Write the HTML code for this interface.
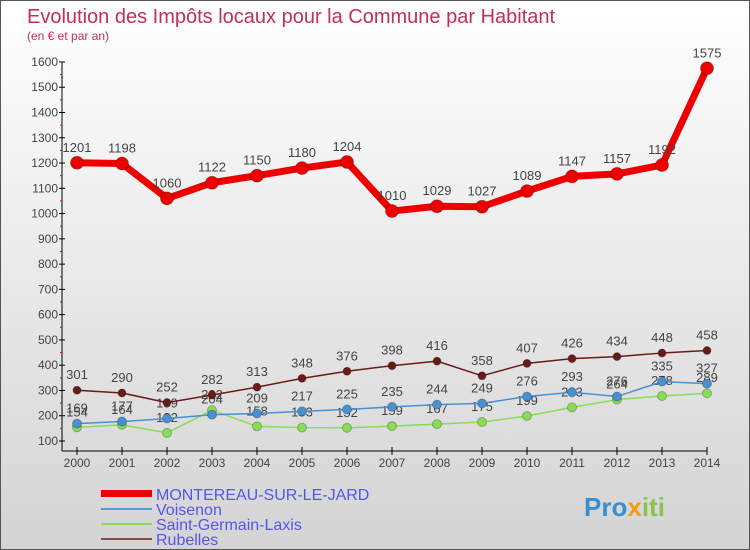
<!DOCTYPE html>
<html><head><meta charset="utf-8"><style>
body{margin:0}
#c{width:748px;height:548px;border:1px solid #555;position:relative;background:linear-gradient(#ffffff,#d4d4d4);font-family:"Liberation Sans","DejaVu Sans",sans-serif;overflow:hidden}
</style></head><body>
<div id="c">
<svg id="s" width="748" height="548" xmlns="http://www.w3.org/2000/svg" style="position:absolute;left:0;top:0">
<text x="26" y="22" font-size="20" fill="#c0305a">Evolution des Impôts locaux pour la Commune par Habitant</text>
<text x="26" y="39" font-size="12" fill="#c0305a">(en € et par an)</text>
<g id="axes"></g><g id="series"></g>
<g font-size="16" fill="#5555ee">
<rect x="100" y="489" width="51" height="7" fill="#e00"/>
<text x="155" y="499">MONTEREAU-SUR-LE-JARD</text>
<rect x="100" y="507" width="51" height="2" fill="#5b9bd5"/>
<text x="155" y="514">Voisenon</text>
<rect x="100" y="522" width="51" height="2" fill="#88dd55"/>
<text x="155" y="529">Saint-Germain-Laxis</text>
<rect x="100" y="537" width="51" height="2" fill="#8b4a4a"/>
<text x="155" y="544">Rubelles</text>
</g>
<g font-size="26" font-weight="bold">
<text x="583" y="515" fill="#3a8fd0">Pro<tspan fill="#f39c12">x</tspan><tspan fill="#8bc34a">iti</tspan></text>
</g>
</svg>
</div>
<script>
const years=[2000,2001,2002,2003,2004,2005,2006,2007,2008,2009,2010,2011,2012,2013,2014];
const montereau=[1201,1198,1060,1122,1150,1180,1204,1010,1029,1027,1089,1147,1157,1192,1575];
const voisenon=[169,177,189,204,209,217,225,235,244,249,276,293,276,335,327];
const saintGermain=[154,164,132,222,158,153,152,159,167,175,199,233,264,278,289];
const rubelles=[301,290,252,282,313,348,376,398,416,358,407,426,434,448,458];
const yTicks=[100,200,300,400,500,600,700,800,900,1000,1100,1200,1300,1400,1500,1600];
const NS="http://www.w3.org/2000/svg";
function X(i){return 76+i*45;}
function Y(v){return 440-(v-100)*0.2527;}
function mk(t,a,p){const e=document.createElementNS(NS,t);for(const k in a)e.setAttribute(k,a[k]);p.appendChild(e);return e;}
const ax=document.getElementById('axes');
let l=mk('line',{x1:61,y1:Y(1600),x2:61,y2:450,stroke:'#000'},ax);


l=mk('line',{x1:61,y1:450,x2:X(14),y2:450,stroke:'#000'},ax);


yTicks.forEach(v=>{
 mk('line',{x1:58,y1:Y(v),x2:64,y2:Y(v),stroke:'#000'},ax);
 if(v<1600) mk('line',{x1:59,y1:Y(v+50),x2:61,y2:Y(v+50),stroke:'#e00'},ax);
 const t=mk('text',{x:57,y:Y(v)+4,'font-size':12,'text-anchor':'end',fill:'#444'},ax);t.textContent=v;
 
 
});
years.forEach((y,i)=>{
 mk('line',{x1:X(i),y1:446,x2:X(i),y2:454,stroke:'#000'},ax);
 const t=mk('text',{x:X(i),y:466,'font-size':12,'text-anchor':'middle',fill:'#444'},ax);t.textContent=y;
 
 
});
const sg=document.getElementById('series');
function draw(data,color,w,r,name){
 const g=mk('g',{},sg);
 
 
 const pts=data.map((v,i)=>X(i)+','+Y(v)).join(' ');
 mk('polyline',{points:pts,fill:'none',stroke:color,'stroke-width':w,'stroke-linejoin':'round'},g);
 data.forEach((v,i)=>{
  const c=mk('circle',{cx:X(i),cy:Y(v),r:r,fill:color,stroke:'rgba(0,0,0,0.25)'},g);
  
  
  const t=mk('text',{x:X(i),y:Y(v)-11,'font-size':13,'text-anchor':'middle',fill:'#444'},g);t.textContent=v;
  
  
 });
}
draw(saintGermain,'#88dd55',1.5,4.5,'saint-germain');
draw(voisenon,'#4a90d0',1.5,4.5,'voisenon');
draw(rubelles,'#6b1a1a',1.5,4,'rubelles');
draw(montereau,'#ee0000',7,6.5,'montereau');
</script>
</body></html>
